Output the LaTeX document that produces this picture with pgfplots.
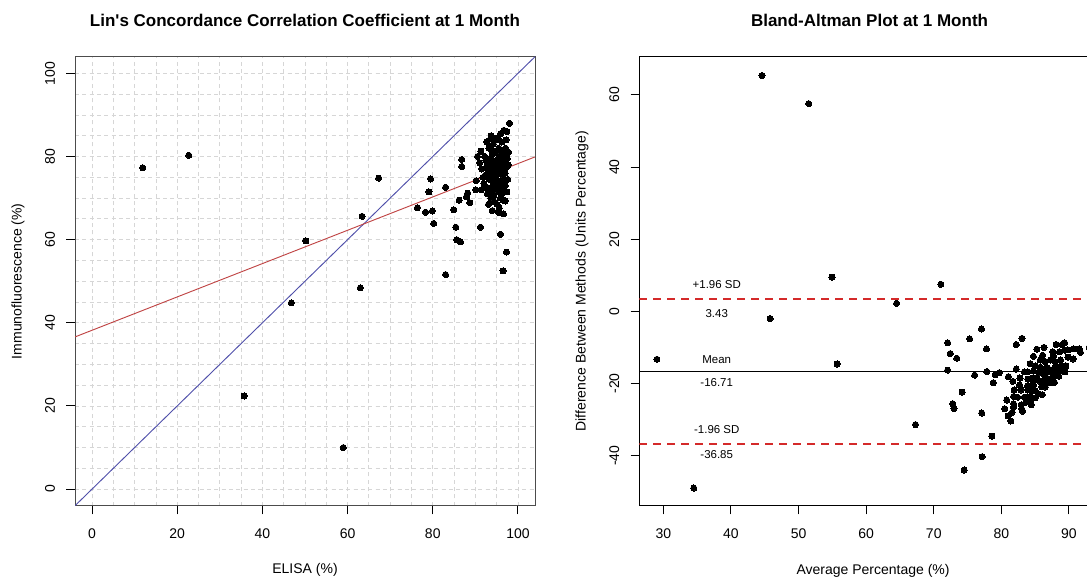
\documentclass[border=0pt]{standalone}
\usepackage{pgfplots}
\pgfplotsset{compat=1.18}
\usepackage{pgfplotstable}
\usepackage{fontspec}
\setmainfont{Liberation Sans}

\definecolor{lincolor}{HTML}{C04545}
\definecolor{idcolor}{HTML}{5050AA}
\definecolor{gridc}{HTML}{D6D6D6}
\definecolor{sdred}{HTML}{D42A2A}

% ELISA (x) vs Immunofluorescence (y)
\pgfplotstableread{
x y
11.9 77.3
22.7 80.3
67.3 74.8
63.4 65.6
50.2 59.7
46.8 44.8
63.0 48.4
35.7 22.4
59.0 10.0
76.4 67.7
78.3 66.6
79.9 66.9
80.2 63.9
79.5 74.6
79.1 71.5
83.0 72.6
83.0 51.6
84.9 67.2
85.4 63.0
85.6 60.0
86.5 59.5
86.2 69.5
86.8 79.3
86.8 77.6
88.2 71.2
88.7 68.9
87.9 70.3
91.2 63.0
90.2 74.2
90.1 72.0
95.9 61.3
97.3 57.0
96.5 52.5
95.6 67.6
96.6 66.2
97.0 69.3
98.0 88.0
91.3 81.3
93.6 84.4
96.7 86.3
92.5 79.0
93.0 76.5
93.5 78.0
94.0 80.5
94.5 75.0
95.0 77.5
95.5 82.0
96.0 74.0
96.5 79.5
97.0 76.0
92.0 73.5
92.8 71.0
93.3 74.5
93.8 72.0
94.3 70.5
94.8 73.0
95.3 71.5
95.8 76.5
96.3 72.5
96.8 78.5
91.5 77.0
92.2 80.0
92.7 83.5
93.2 82.0
93.7 85.0
94.2 83.0
94.7 79.0
95.2 84.5
95.7 80.0
96.2 83.5
96.7 81.5
97.2 84.0
97.5 79.5
97.6 74.5
97.4 71.5
97.0 73.0
96.5 69.5
95.9 70.0
95.1 68.5
94.6 69.0
93.9 75.5
94.1 77.0
94.4 78.5
94.9 81.0
95.4 76.0
95.6 73.5
96.1 77.5
96.4 75.5
96.9 80.5
97.3 77.5
92.3 75.5
92.6 77.5
92.9 72.5
93.4 79.5
93.6 70.0
94.2 73.5
94.6 76.0
95.0 74.5
95.3 78.5
95.8 72.0
96.0 79.0
96.3 81.0
96.6 76.5
96.9 74.0
97.1 82.0
97.4 86.0
91.8 75.0
91.0 78.5
90.5 80.0
91.4 72.0
93.1 68.5
94.0 67.0
95.5 66.5
96.2 71.0
94.8 84.0
93.9 81.5
95.9 85.5
96.7 72.0
97.7 78.0
97.8 81.0
}\lindata

% Bland-Altman: average (x) vs difference (y)
\pgfplotstableread{
x y
44.6 65.4
51.5 57.6
71.05 7.5
64.5 2.2
54.95 9.5
45.8 -2.0
55.7 -14.6
29.05 -13.3
34.5 -49.0
72.05 -8.7
72.45 -11.7
73.4 -13.0
72.05 -16.3
77.05 -4.9
75.3 -7.6
77.8 -10.4
67.3 -31.4
76.05 -17.7
74.2 -22.4
72.8 -25.6
73.0 -27.0
77.85 -16.7
83.05 -7.5
82.2 -9.2
79.7 -17.0
78.8 -19.8
79.1 -17.6
77.1 -28.2
82.2 -16.0
81.05 -18.1
78.6 -34.6
77.15 -40.3
74.5 -44.0
81.6 -28.0
81.4 -30.4
83.15 -27.7
93.0 -10.0
86.3 -10.0
89.0 -9.2
91.5 -10.4
85.75 -13.5
84.75 -16.5
85.75 -15.5
87.25 -13.5
84.75 -19.5
86.25 -17.5
88.75 -13.5
85.0 -22.0
88.0 -17.0
86.5 -21.0
82.75 -18.5
81.9 -21.8
83.9 -18.8
82.9 -21.8
82.4 -23.8
83.9 -21.8
83.4 -23.8
86.15 -19.3
84.4 -23.8
87.65 -18.3
84.25 -14.5
86.1 -12.2
88.1 -9.2
87.6 -11.2
89.35 -8.7
88.6 -11.2
86.85 -15.7
89.85 -10.7
87.85 -15.7
89.85 -12.7
89.1 -15.2
90.6 -13.2
88.5 -18.0
86.05 -23.1
84.45 -25.9
85.0 -24.0
83.0 -27.0
82.95 -25.9
81.8 -26.6
81.8 -25.6
84.7 -18.4
85.55 -17.1
86.45 -15.9
87.95 -13.9
85.7 -19.4
84.55 -22.1
86.8 -18.6
85.95 -20.9
88.7 -16.4
87.4 -19.8
83.9 -16.8
85.05 -15.1
82.7 -20.4
86.45 -13.9
81.8 -23.6
83.85 -20.7
85.3 -18.6
84.75 -20.5
86.9 -16.8
83.9 -23.8
87.5 -17.0
88.65 -15.3
86.55 -20.1
85.45 -22.9
89.55 -15.1
91.7 -11.4
83.4 -16.8
84.75 -12.5
85.25 -10.5
81.7 -19.4
80.8 -24.6
80.5 -27.0
81.0 -29.0
83.6 -25.2
89.4 -10.8
87.7 -12.4
90.7 -10.4
84.35 -24.7
87.85 -19.7
89.4 -16.8
}\badata

\begin{document}
\begin{tikzpicture}
\pgfplotsset{
  rstyle/.style={
    scale only axis,
    tick align=outside,
    xtick pos=lower, ytick pos=left,
    major tick length=6.5pt,
    minor tick length=0pt,
    tick style={black, line width=0.75pt},
    /pgf/number format/assume math mode=true,
    ticklabel style={font=\fontsize{10.5}{12}\selectfont},
    label style={font=\fontsize{10.5}{12}\selectfont},
    title style={font=\bfseries\fontsize{12.75}{15}\selectfont},
    xticklabel style={anchor=center, yshift=-14.7pt},
    yticklabel style={xshift=-12.25pt, rotate=90, anchor=center},
    every axis plot/.append style={line width=0.75pt},
  },
  dots/.style={only marks, mark=*, mark size=2.3pt, mark options={fill=black, draw=black, line width=0pt}},
}
% ---------------- Left: Lin's CCC ----------------
\begin{axis}[rstyle,
  at={(56.25pt,55.7pt)}, anchor=south west,
  width=345pt, height=336.75pt,
  xmin=-4, xmax=104, ymin=-4, ymax=104,
  xtick={0,20,...,100}, ytick={0,20,...,100},
  minor xtick={0,5,...,100}, minor ytick={0,5,...,100},
  grid=both,
  major grid style={gridc, dash pattern=on 3pt off 2.5pt, line width=0.6pt},
  minor grid style={gridc, dash pattern=on 3pt off 2.5pt, line width=0.6pt},
  axis line style={black!70, line width=0.75pt},
  title={Lin\textquotesingle s Concordance Correlation Coefficient at 1 Month},
  title style={at={(axis description cs:0.5,1.0817)}, anchor=center, yshift=-6pt},
  xlabel={ELISA (\%)},
  ylabel={Immunofluorescence (\%)},
  xlabel style={at={(axis description cs:0.5,-0.143)}, anchor=center},
  ylabel style={at={(axis description cs:-0.124,0.5)}, anchor=center},
]
\addplot[idcolor, line width=0.7pt] coordinates {(-4,-4) (104,104)};
\addplot[lincolor, line width=0.7pt] coordinates {(-4,36.6) (104,79.9)};
\addplot[dots] table[x=x, y=y] {\lindata};
\end{axis}
% ---------------- Right: Bland-Altman ----------------
\begin{axis}[rstyle,
  at={(479.5pt,55.7pt)}, anchor=south west,
  width=350.6pt, height=336.75pt,
  xmin=26.45, xmax=95.6, ymin=-53.9, ymax=70.6,
  xtick={30,40,...,90}, ytick={-40,-20,...,60},
  axis line style={black, line width=0.75pt},
  title={Bland-Altman Plot at 1 Month},
  title style={at={(axis description cs:0.4924,1.0817)}, anchor=center, yshift=-6pt},
  xlabel={Average Percentage (\%)},
  ylabel={Difference Between Methods (Units Percentage)},
  xlabel style={at={(axis description cs:0.5,-0.145)}, anchor=center},
  ylabel style={at={(axis description cs:-0.1226,0.5)}, anchor=center},
]
\addplot[dots] table[x=x, y=y] {\badata};
\addplot[black, line width=0.75pt] coordinates {(26.45,-16.71) (95.6,-16.71)};
\addplot[sdred, line width=1.5pt, dash pattern=on 6pt off 4.5pt] coordinates {(26.45,3.43) (95.6,3.43)};
\addplot[sdred, line width=1.5pt, dash pattern=on 6pt off 4.5pt] coordinates {(26.45,-36.85) (95.6,-36.85)};
\node[font=\fontsize{8.6}{10}\selectfont] at (axis cs:37.9,7.5) {+1.96 SD};
\node[font=\fontsize{8.6}{10}\selectfont] at (axis cs:37.9,-0.55) {3.43};
\node[font=\fontsize{8.6}{10}\selectfont] at (axis cs:37.9,-13.3) {Mean};
\node[font=\fontsize{8.6}{10}\selectfont] at (axis cs:37.9,-19.7) {-16.71};
\node[font=\fontsize{8.6}{10}\selectfont] at (axis cs:37.9,-32.8) {-1.96 SD};
\node[font=\fontsize{8.6}{10}\selectfont] at (axis cs:37.9,-39.7) {-36.85};
\end{axis}
\pgfresetboundingbox
\useasboundingbox (0,0) rectangle (815.25pt,435pt);
\end{tikzpicture}
\end{document}
